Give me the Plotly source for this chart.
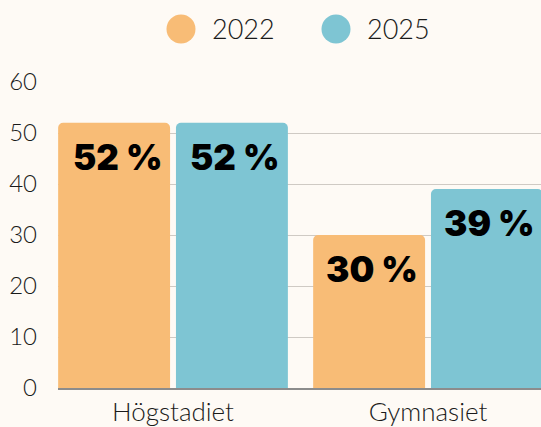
import plotly.graph_objects as go

categories = ["Högstadiet", "Gymnasiet"]
years = ["2022", "2025"]
values_2022 = [52, 30]
values_2025 = [52, 39]
y_ticks = [0, 10, 20, 30, 40, 50, 60]

series = [values_2022, values_2025]
colors = ["#F8BC76", "#7EC5D3"]
bg = "#FEFAF5"

fig = go.Figure()
x_idx = list(range(len(categories)))
for name, vals, col in zip(years, series, colors):
    fig.add_trace(go.Bar(x=x_idx, y=vals, name=name, marker=dict(color=col, line=dict(width=0)),
                         showlegend=False, hoverinfo="skip"))

bargap = 0.076
slot = (1 - bargap) / len(series)
for i, vals in enumerate(series):
    off = -(1 - bargap) / 2 + slot * (i + 0.5)
    for j, v in enumerate(vals):
        fig.add_annotation(x=j + off, y=v, xref="x", yref="y", text=f"{v} %", showarrow=False,
                           yanchor="top", yshift=-11, xshift=3,
                           font=dict(family="Inter, Roboto, DejaVu Sans", size=35, color="#000000", weight=900))

# custom legend
plot_l, plot_r, plot_t, plot_b = 58, 541, 82, 388
W = plot_r - plot_l
H = plot_b - plot_t
leg_circles = [181, 336]
leg_texts = [210, 365]
leg_y = (plot_b - 29) / H
for name, col, cx, tx in zip(years, colors, leg_circles, leg_texts):
    fig.add_shape(type="circle", xref="paper", yref="paper", xsizemode="pixel", ysizemode="pixel",
                  xanchor=(cx - plot_l) / W, yanchor=leg_y, x0=-14.5, x1=14.5, y0=-14.5, y1=14.5,
                  fillcolor=col, line=dict(width=0))
    fig.add_annotation(xref="paper", yref="paper", x=(tx - plot_l) / W, y=leg_y, text=name,
                       showarrow=False, xanchor="left", yanchor="middle",
                       font=dict(family="Lato, Open Sans", size=27, color="#1a1a1a", weight=300))

fig.update_layout(
    width=541, height=427,
    margin=dict(l=plot_l, r=0, t=plot_t, b=427 - plot_b),
    paper_bgcolor=bg, plot_bgcolor=bg,
    barmode="group", bargap=bargap, bargroupgap=0.05, barcornerradius=5,
    font=dict(family="Lato, Open Sans", color="#1a1a1a", weight=300),
    xaxis=dict(range=[-0.451, 1.443], tickmode="array", tickvals=x_idx, ticktext=categories,
               showgrid=False, zeroline=False, showline=True, linecolor="#8c8c8c", linewidth=1.5,
               ticks="", tickfont=dict(size=26, color="#1a1a1a", weight=300), automargin=False,
               fixedrange=True),
    yaxis=dict(range=[0, 60], tickmode="array", tickvals=y_ticks, showgrid=True, gridcolor="#cfcac4",
               gridwidth=1, zeroline=False, showline=False, ticks="", ticklabelstandoff=20,
               tickfont=dict(size=24, color="#1a1a1a", weight=300), automargin=False, fixedrange=True),
)

fig.write_html("out.html", config={"displayModeBar": False},
               post_script="document.body.style.margin='0';document.body.style.background='%s';" % bg)
